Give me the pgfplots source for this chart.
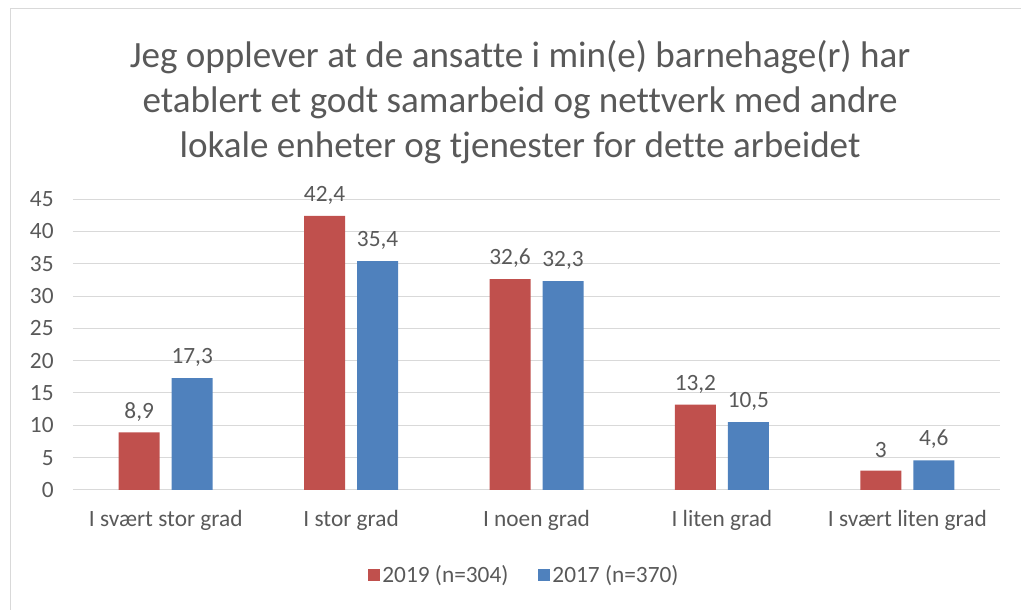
\documentclass[border=0pt]{standalone}
\usepackage{pgfplots}
\pgfplotsset{compat=1.18}
\usepackage{fontspec}
\setmainfont{Carlito}[Ligatures={NoCommon}]
\definecolor{txt}{HTML}{595959}
\definecolor{gridc}{HTML}{D9D9D9}
\definecolor{red19}{HTML}{C0504D}
\definecolor{blue17}{HTML}{4F81BD}
\begin{document}
\begin{tikzpicture}
\path[use as bounding box] (0,0) rectangle (765.75pt,457.5pt);
\draw[color=gridc, line width=0.75pt] (7.5pt,0) -- (7.5pt,450.75pt) -- (765.75pt,450.75pt);
\node[text=txt, align=center, font=\fontsize{27.8}{33.75}\selectfont] at (390pt,381pt)
  {Jeg opplever at de ansatte i min(e) barnehage(r) har\\etablert et godt samarbeid og nettverk med andre\\lokale enheter og tjenester for dette arbeidet};
\begin{axis}[
  at={(54.75pt,90pt)}, anchor=south west,
  scale only axis, width=695.25pt, height=218.25pt,
  xmin=-0.5, xmax=4.5, ymin=0, ymax=45,
  ytick={0,5,...,45},
  xtick={0,1,2,3,4},
  xticklabels={I svært stor grad, I stor grad, I noen grad, I liten grad, I svært liten grad},
  ybar=9pt, bar width=30.75pt,
  major tick length=0pt,
  axis line style={draw=none},
  ymajorgrids, grid style={color=gridc, line width=0.75pt},
  font=\fontsize{17.5}{21}\selectfont,
  ticklabel style={text=txt},
  yticklabel style={xshift=-11pt},
  xticklabel style={anchor=center, yshift=-23pt},
  /pgf/number format/assume math mode=true,
  /pgf/number format/use comma,
  /pgf/number format/1000 sep={},
  nodes near coords,
  nodes near coords style={text=txt, anchor=center, yshift=15.5pt, font=\fontsize{17.5}{21}\selectfont},
  legend columns=2,
  legend style={draw=none, fill=none, at={(0.487,-0.292)}, anchor=center, text=txt,
    font=\fontsize{17.5}{21}\selectfont,
    /tikz/every even column/.append style={column sep=20pt}},
  legend image code/.code={\fill[#1] (0pt,-4.5pt) rectangle (9pt,4.5pt);},
]
\addplot[fill=red19, draw=none] coordinates {(0,8.9) (1,42.4) (2,32.6) (3,13.2) (4,3)};
\addplot[fill=blue17, draw=none] coordinates {(0,17.3) (1,35.4) (2,32.3) (3,10.5) (4,4.6)};
\legend{2019 (n=304), 2017 (n=370)}
\end{axis}
\end{tikzpicture}
\end{document}
